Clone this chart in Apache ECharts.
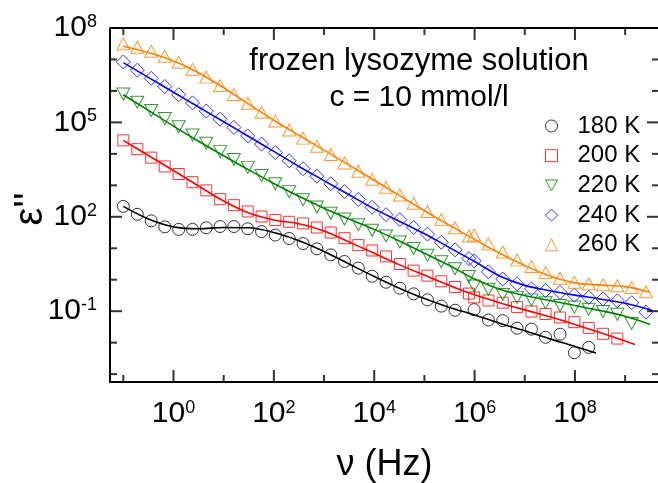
<!DOCTYPE html>
<html>
<head>
<meta charset="utf-8">
<script src="https://cdn.jsdelivr.net/npm/echarts@6/dist/echarts.min.js"></script>
<style>
  html, body { margin: 0; padding: 0; background: #fff; }
  #chart { width: 658px; height: 483px; }
</style>
</head>
<body>
<div id="chart"></div>
<script>
// Measurement frequencies (Hz)
const freq = [0.1, 0.19, 0.36, 0.67, 1.27, 2.39, 4.5, 8.5, 16, 30.2, 56.9, 107, 202, 382, 720,
  1360, 2560, 4830, 9100, 17200, 32400, 61000, 115000, 217000, 409000, 772000,
  980000, 1.89e6, 3.64e6, 7.02e6, 1.36e7, 2.6e7, 5.05e7, 9.74e7, 1.88e8, 3.63e8, 7.0e8, 1.35e9, 2.6e9];

// Dielectric loss eps'' per temperature (null = no point at that frequency)
const eps180 = [214, 120, 74.1, 47.9, 39.8, 39.8, 44.7, 49.0, 49.0, 41.7, 33.9, 26.3, 20.4, 14.1, 9.55,
  6.17, 3.80, 2.34, 1.29, 0.832, 0.537, 0.355, 0.229, 0.145, 0.107, null,
  0.112, 0.0525, 0.0501, 0.0288, 0.0269, 0.0148, 0.0186, 0.00479, 0.00708, null, null, null, null];
const eps200 = [26900, 14100, 7590, 3980, 2290, 1260, 692, 363, 234, 148, 102, 79.4, 69.2, 61.7, 45.7,
  31.6, 20.9, 12.6, 8.51, 5.50, 3.16, 1.95, 1.35, 0.891, 0.589, 0.363,
  0.275, 0.219, 0.186, 0.135, 0.0977, 0.0813, 0.0631, 0.0447, 0.0295, 0.0191, 0.0135, null, null];
const eps220 = [794000, 437000, 240000, 132000, 72400, 39800, 21900, 12000, 6610, 3720, 2040, 1120, 631, 347, 204,
  129, 85.1, 56.2, 37.2, 24.5, 15.8, 9.77, 6.03, 3.72, 2.24, 1.26,
  0.631, 0.501, 0.339, 0.275, 0.229, 0.186, 0.151, 0.135, 0.115, 0.0977, 0.0794, 0.0407, null];
const eps240 = [8.32e6, 4.57e6, 2.51e6, 1.38e6, 7.59e5, 4.17e5, 2.29e5, 1.26e5, 6.92e4, 3.72e4, 2.04e4, 1.10e4, 6030, 3390, 1950,
  1120, 631, 355, 200, 117, 81.3, 45.7, 28.2, 15.5, 8.91, 4.68,
  3.98, 1.78, 1.05, 0.741, 0.513, 0.457, 0.398, 0.324, 0.275, 0.245, 0.214, 0.186, 0.0933];
const eps260 = [3.16e7, 2.45e7, 1.82e7, 1.26e7, 8.13e6, 4.90e6, 2.75e6, 1.48e6, 7.76e5, 4.07e5, 2.09e5, 1.10e5, 5.75e4, 3.16e4, 1.74e4,
  9550, 5130, 2820, 1550, 871, 490, 269, 148, 81.3, 44.7, 24.5,
  26.3, 13.8, 7.59, 4.27, 2.63, 1.70, 1.12, 0.832, 0.741, 0.692, 0.646, 0.562, 0.417];

// Fit curves as [frequency, eps''] pairs
const fit180 = [[0.1, 214], [0.316, 85.1], [1, 47.9], [3.16, 41.7], [10, 45.7], [31.6, 44.7], [100, 31.6],
  [316, 17.4], [1e3, 7.94], [3160, 3.16], [1e4, 1.26], [3.16e4, 0.537], [1e5, 0.251], [3.16e5, 0.132],
  [1e6, 0.0759], [3.16e6, 0.0417], [1e7, 0.0240], [3.16e7, 0.0132], [1e8, 0.00759], [2.63e8, 0.00468]];
const fit200 = [[0.1, 26900], [0.316, 8910], [1, 2950], [3.16, 955], [10, 316], [31.6, 132], [100, 79.4],
  [316, 60.3], [1e3, 35.5], [3160, 15.8], [1e4, 6.92], [3.16e4, 3.02], [1e5, 1.41], [3.16e5, 0.661],
  [1e6, 0.331], [3.16e6, 0.186], [1e7, 0.110], [3.16e7, 0.0661], [1e8, 0.0380], [3.16e8, 0.0209],
  [1e9, 0.0112], [1.58e9, 0.00871]];
const fit220 = [[0.1, 7.59e5], [0.316, 2.40e5], [1, 7.59e4], [3.16, 2.51e4], [10, 8710], [31.6, 3090], [100, 1150],
  [316, 447], [1e3, 186], [3160, 85.1], [1e4, 39.8], [3.16e4, 17.0], [1e5, 6.92], [3.16e5, 2.82],
  [1e6, 1.05], [3.16e6, 0.501], [1e7, 0.316], [3.16e7, 0.219], [1e8, 0.151], [3.16e8, 0.105],
  [1e9, 0.0692], [3.16e9, 0.0380]];
const fit240 = [[0.1, 7.94e6], [0.316, 2.69e6], [1, 9.12e5], [3.16, 3.09e5], [10, 1.05e5], [31.6, 3.55e4], [100, 1.20e4],
  [316, 3980], [1e3, 1410], [3160, 501], [1e4, 178], [3.16e4, 72.4], [1e5, 28.8], [3.16e5, 10.5],
  [1e6, 3.80], [3.16e6, 1.32], [1e7, 0.661], [3.16e7, 0.447], [1e8, 0.324], [3.16e8, 0.245],
  [1e9, 0.178], [3.47e9, 0.105]];
const fit260 = [[0.1, 2.63e7], [0.316, 1.66e7], [1, 8.91e6], [3.16, 3.80e6], [10, 1.26e6], [31.6, 3.80e5], [100, 1.17e5],
  [316, 3.89e4], [1e3, 1.32e4], [3160, 4370], [1e4, 1450], [3.16e4, 479], [1e5, 155], [3.16e5, 53.7],
  [1e6, 19.1], [3.16e6, 6.92], [1e7, 2.82], [3.16e7, 1.32], [1e8, 0.794], [3.16e8, 0.676],
  [1e9, 0.603], [3.16e9, 0.398]];

// Axis ranges (data units) and decade tick spans (powers of ten)
const xRange = [0.0543, 4.73e9];
const yRange = [5.62e-4, 1e8];
const xDecades = [-1, 9];       // every decade gets a short tick
const xLabelDecades = [0, 8];   // labelled every 2 decades
const yDecades = [-3, 8];
const yLabelDecades = [-1, 8];  // labelled every 3 decades

const temps = ['180 K', '200 K', '220 K', '240 K', '260 K'];
const colors = ['#000000', '#ff0000', '#008000', '#0000ff', '#ff8000'];
const symbols = ['circle', 'rect', 'path://M0,0 L10,0 L5,9 Z', 'diamond', 'triangle'];
const symbolSizes = [12, 11, [13, 12], 14, [13, 12]];
const measured = [eps180, eps200, eps220, eps240, eps260];
const fits = [fit180, fit200, fit220, fit240, fit260];

const FONT = '"Liberation Sans", Arial, Helvetica, sans-serif';
const W = 658, H = 483;
const plot = { left: 110, right: -1, top: 28, bottom: 101 };
const plotW = W - plot.left - plot.right;
const plotH = H - plot.top - plot.bottom;
const LX = [Math.log10(xRange[0]), Math.log10(xRange[1])];
const LY = [Math.log10(yRange[0]), Math.log10(yRange[1])];
// Pixel position of a decade 10^e inside the plot grid (used to place the label grids)
function xPix(e) { return plot.left + (e - LX[0]) / (LX[1] - LX[0]) * plotW; }
function yPix(e) { return plot.top + (LY[1] - e) / (LY[1] - LY[0]) * plotH; }

function pairs(xs, ys) {
  const out = [];
  for (let i = 0; i < xs.length; i++) {
    if (ys[i] != null) out.push([xs[i], ys[i]]);
  }
  return out;
}

const powerRich = {
  b: { fontSize: 30, fontFamily: FONT, color: '#000', lineHeight: 30, verticalAlign: 'bottom' },
  s: { fontSize: 18, fontFamily: FONT, color: '#000', lineHeight: 8, verticalAlign: 'top' }
};
function powerLabel(margin) {
  return {
    show: true, margin: margin, rich: powerRich,
    formatter: function (e) { return '{b|10}{s|' + e + '}'; }
  };
}
const frameLine = { show: true, onZero: false, lineStyle: { color: '#000', width: 2 } };

// Grids: 0 = data plot; 1 = decade labels along x; 2 = decade labels along y
const grids = [
  Object.assign({}, plot),
  { left: xPix(xLabelDecades[0]), right: W - xPix(xLabelDecades[1]), top: plot.top, bottom: plot.bottom },
  { left: plot.left, right: plot.right, top: yPix(yLabelDecades[1]), bottom: H - yPix(yLabelDecades[0]) }
].map(function (g) { return Object.assign(g, { outerBoundsMode: 'none', containLabel: false }); });

function labelAxis(gridIndex, position, span, interval, margin) {
  return {
    type: 'value', gridIndex: gridIndex, position: position,
    min: span[0], max: span[1], interval: interval,
    axisLine: { show: false, onZero: false }, axisTick: { show: false }, splitLine: { show: false },
    axisLabel: powerLabel(margin)
  };
}
function helperAxis(gridIndex) {
  return {
    type: 'value', gridIndex: gridIndex, min: 0, max: 1, show: false,
    axisLine: { show: false, onZero: false }
  };
}

const xAxes = [
  {
    type: 'log', logBase: 10, gridIndex: 0, position: 'bottom', min: xRange[0], max: xRange[1],
    axisLine: frameLine, axisTick: { show: false }, axisLabel: { show: false }, splitLine: { show: false },
    name: '\u03bd (Hz)', nameLocation: 'middle', nameGap: 65,
    nameTextStyle: { fontSize: 36, fontFamily: FONT, color: '#000' }
  },
  labelAxis(1, 'bottom', xLabelDecades, 2, 17),
  helperAxis(2)
];
const yAxes = [
  {
    type: 'log', logBase: 10, gridIndex: 0, position: 'left', min: yRange[0], max: yRange[1],
    axisLine: frameLine, axisTick: { show: false }, axisLabel: { show: false }, splitLine: { show: false }
  },
  helperAxis(1),
  labelAxis(2, 'left', yLabelDecades, 3, 13)
];

const series = [];
temps.forEach(function (name, i) {
  series.push({
    name: name,
    type: 'scatter',
    xAxisIndex: 0,
    yAxisIndex: 0,
    symbol: symbols[i],
    symbolSize: symbolSizes[i],
    itemStyle: { color: 'rgba(255,255,255,0)', borderColor: colors[i], borderWidth: 1 },
    emphasis: { disabled: true },
    z: 2,
    data: pairs(freq, measured[i])
  });
});
temps.forEach(function (name, i) {
  series.push({
    name: name + ' fit',
    type: 'line',
    xAxisIndex: 0,
    yAxisIndex: 0,
    smooth: 0.35,
    showSymbol: false,
    lineStyle: { color: colors[i], width: 1.6 },
    emphasis: { disabled: true },
    z: 3,
    data: fits[i]
  });
});

// Top and right edges of the frame, drawn along the plot's own axes
[[[xRange[0], yRange[1]], [xRange[1], yRange[1]]],
 [[xRange[1], yRange[0]], [xRange[1], yRange[1]]]].forEach(function (edge, i) {
  series.push({
    name: 'frame ' + i, type: 'line', clip: false, showSymbol: false, silent: true,
    lineStyle: { color: '#000', width: 2 }, emphasis: { disabled: true }, z: 4, data: edge
  });
});

// Inward decade ticks on all four sides, as small bars anchored at the axis edges
const tickItems = [];
function tick(x, y, w, h, ox, oy) {
  tickItems.push({ value: [x, y], symbolSize: [w, h], symbolOffset: [ox, oy] });
}
for (let d = xDecades[0]; d <= xDecades[1]; d++) {
  const len = (d % 2 === 0 && d >= xLabelDecades[0] && d <= xLabelDecades[1]) ? 12 : 7;
  const v = Math.pow(10, d);
  tick(v, yRange[0], 2, len, 0, -len / 2);
  tick(v, yRange[1], 2, len, 0, len / 2);
}
for (let d = yDecades[0]; d <= yDecades[1]; d++) {
  const len = ((d - yLabelDecades[0]) % 3 === 0 && d >= yLabelDecades[0]) ? 12 : 7;
  const v = Math.pow(10, d);
  tick(xRange[0], v, len, 2, len / 2, 0);
  tick(xRange[1], v, len, 2, -len / 2, 0);
}
series.push({
  name: 'ticks', type: 'scatter', clip: false, silent: true, symbol: 'rect',
  itemStyle: { color: '#000' }, emphasis: { disabled: true }, z: 4, data: tickItems
});

const chart = echarts.init(document.getElementById('chart'), null, { renderer: 'canvas' });
chart.setOption({
  animation: false,
  backgroundColor: '#ffffff',
  grid: grids,
  xAxis: xAxes,
  yAxis: yAxes,
  legend: {
    data: temps.map(function (name, i) {
      return {
        name: name,
        icon: symbols[i],
        itemStyle: { color: 'rgba(255,255,255,0)', borderColor: colors[i], borderWidth: 1 }
      };
    }),
    orient: 'vertical',
    left: 545,
    top: 114,
    padding: 0,
    itemWidth: 12,
    itemHeight: 12,
    itemGap: 5.7,
    selectedMode: false,
    textStyle: { fontSize: 24, lineHeight: 24, fontFamily: FONT, color: '#000', padding: [0, 0, 0, 15] }
  },
  graphic: [
    { type: 'text', x: 419, y: 61, style: { text: 'frozen lysozyme solution', textAlign: 'center', textVerticalAlign: 'middle', font: '31px ' + FONT, fill: '#000' } },
    { type: 'text', x: 419, y: 98, style: { text: 'c = 10 mmol/l', textAlign: 'center', textVerticalAlign: 'middle', font: '30px ' + FONT, fill: '#000' } },
    { type: 'text', x: 31, y: 209, rotation: Math.PI / 2, style: { text: "\u03b5''", textAlign: 'center', textVerticalAlign: 'middle', font: '40px ' + FONT, fill: '#000' } }
  ],
  series: series
});
</script>
</body>
</html>
